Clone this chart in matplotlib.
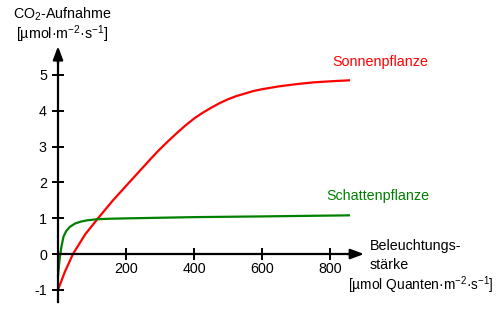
import matplotlib
matplotlib.use("Agg")
import matplotlib.pyplot as plt

plt.rcParams['font.family'] = ['Liberation Sans', 'DejaVu Sans']
plt.rcParams['axes.unicode_minus'] = False
plt.rcParams['mathtext.fontset'] = 'custom'
plt.rcParams['mathtext.rm'] = 'Liberation Sans'
plt.rcParams['mathtext.it'] = 'Liberation Sans:italic'
plt.rcParams['mathtext.bf'] = 'Liberation Sans:bold'

sun_x = [0, 20, 44, 80, 118, 160, 200, 250, 275, 300, 325, 350, 375, 400, 425, 450, 475, 500,
         525, 550, 575, 600, 650, 700, 750, 800, 859]
sun_y = [-1.0, -0.5, 0.0, 0.55, 1.0, 1.48, 1.9, 2.42, 2.68, 2.93, 3.16, 3.38, 3.59, 3.78, 3.94,
         4.08, 4.21, 4.32, 4.41, 4.48, 4.55, 4.6, 4.68, 4.74, 4.79, 4.82, 4.85]
shade_x = [0, 3, 6, 10, 16, 24, 35, 50, 65, 85, 114, 150, 200, 400, 600, 859]
shade_y = [-0.63, -0.3, -0.05, 0.2, 0.48, 0.64, 0.76, 0.85, 0.9, 0.94, 0.97, 0.985, 0.995, 1.03, 1.05, 1.08]
x_ticks = [200, 400, 600, 800]
y_ticks = [-1, 0, 1, 2, 3, 4, 5]

fig = plt.figure(figsize=(5, 3.11), dpi=100)
ax = fig.add_axes([0, 0, 1, 1])
ax.set_xlim(-170.6, 1300)
ax.set_ylim(-1.59, 7.09)
ax.patch.set_alpha(0)

ax.plot(sun_x, sun_y, color='#ff0000', lw=1.6, solid_capstyle='butt', solid_joinstyle='round')
ax.plot(shade_x, shade_y, color='#008000', lw=1.6, solid_capstyle='butt', solid_joinstyle='round')

for s in ['top', 'right']:
    ax.spines[s].set_visible(False)
ax.spines['left'].set_position(('data', 0))
ax.spines['bottom'].set_position(('data', 0))
ax.spines['left'].set_bounds(-1.34, 5.5)
ax.spines['bottom'].set_bounds(0, 870)
for s in ['left', 'bottom']:
    ax.spines[s].set_linewidth(1.6)
ax.set_xticks(x_ticks)
ax.set_yticks(y_ticks)
ax.set_xticklabels([str(v) for v in x_ticks])
ax.set_yticklabels([str(v) for v in y_ticks])
ax.tick_params(direction='inout', length=8, width=1.4, labelsize=10.3, pad=2)
ax.tick_params(axis='y', pad=4)

ax.annotate('', xy=(0, 5.8), xytext=(0, 5.3),
            arrowprops=dict(arrowstyle='-|>,head_length=0.8,head_width=0.3', color='black', lw=1.6, shrinkA=0, shrinkB=0))
ax.annotate('', xy=(900, 0), xytext=(850, 0),
            arrowprops=dict(arrowstyle='-|>,head_length=0.8,head_width=0.3', color='black', lw=1.6, shrinkA=0, shrinkB=0))

fs = 10.3
fig.text(62/500, 1 - 14/311, 'CO$_2$-Aufnahme', ha='center', va='center', fontsize=fs)
fig.text(62/500, 1 - 34/311, '[µmol·m$^{-2}$·s$^{-1}$]', ha='center', va='center', fontsize=fs)
fig.text(380/500, 1 - 62/311, 'Sonnenpflanze', ha='center', va='center', fontsize=fs, color='#ff0000')
fig.text(378/500, 1 - 196/311, 'Schattenpflanze', ha='center', va='center', fontsize=fs, color='#008000')
fig.text(370/500, 1 - 246/311, 'Beleuchtungs-', ha='left', va='center', fontsize=fs)
fig.text(370/500, 1 - 265/311, 'stärke', ha='left', va='center', fontsize=fs)
fig.text(494/500, 1 - 285/311, '[µmol Quanten·m$^{-2}$·s$^{-1}$]', ha='right', va='center', fontsize=9.9)

fig.savefig('out.png', dpi=100)
